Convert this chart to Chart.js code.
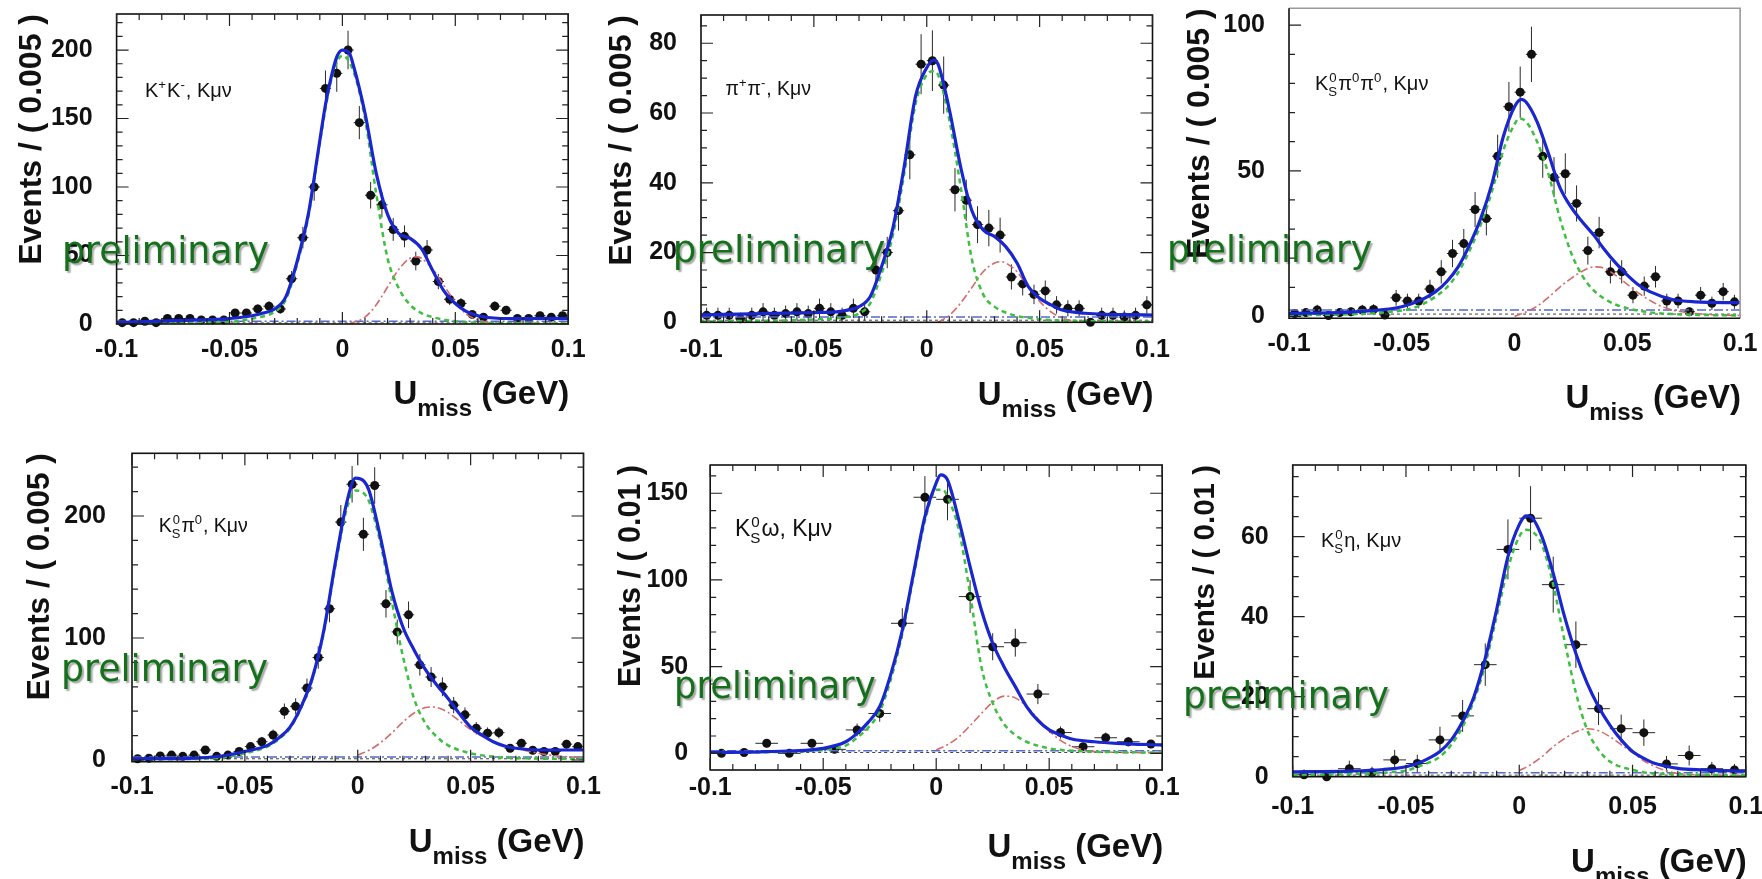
<!DOCTYPE html>
<html><head><meta charset="utf-8">
<script src="https://cdn.jsdelivr.net/npm/chart.js@4/dist/chart.umd.min.js"></script>
<style>
html,body{margin:0;padding:0;background:#fff;}
#wrap{position:relative;width:1762px;height:879px;overflow:hidden;background:#fff;}
canvas{position:absolute;left:0;top:0;}
</style></head><body><div id="wrap">
<canvas id="c1" width="1762" height="879"></canvas>
<canvas id="c2" width="1762" height="879"></canvas>
<canvas id="c3" width="1762" height="879"></canvas>
<canvas id="c4" width="1762" height="879"></canvas>
<canvas id="c5" width="1762" height="879"></canvas>
<canvas id="c6" width="1762" height="879"></canvas>
</div>
<script>
// ---------------- DATA ----------------
const bins005 = [-0.0975,-0.0925,-0.0875,-0.0825,-0.0775,-0.0725,-0.0675,-0.0625,-0.0575,-0.0525,-0.0475,-0.0425,-0.0375,-0.0325,-0.0275,-0.0225,-0.0175,-0.0125,-0.0075,-0.0025,0.0025,0.0075,0.0125,0.0175,0.0225,0.0275,0.0325,0.0375,0.0425,0.0475,0.0525,0.0575,0.0625,0.0675,0.0725,0.0775,0.0825,0.0875,0.0925,0.0975];
const bins01 = [-0.095,-0.085,-0.075,-0.065,-0.055,-0.045,-0.035,-0.025,-0.015,-0.005,0.005,0.015,0.025,0.035,0.045,0.055,0.065,0.075,0.085,0.095];
const xTicks = [-0.1,-0.05,0,0.05,0.1];
const xTickLabels = ['-0.1','-0.05','0','0.05','0.1'];

// Panel 1: K+K-, Kmunu
const counts1 = [1,1,2,1,4,4,4,3,3,3,8,8,11,13,11,33,63,100,172,183,200,147,94,87,69,64,46,54,31,18,15,7,5,13,10,4,4,6,5,6];
const errors1 = [1,1,1.4,1,2,2,2,1.7,1.7,1.7,2.8,2.8,3.3,3.6,3.3,5.7,7.9,10,13.1,13.5,14.1,12.1,9.7,9.3,8.3,8,6.8,7.3,5.6,4.2,3.9,2.6,2.2,3.6,3.2,2,2,2.4,2.2,2.4];
const fitX1 = [-0.1,-0.075,-0.05,-0.04,-0.035,-0.03,-0.025,-0.02,-0.015,-0.01,-0.0075,-0.005,-0.0025,0,0.003,0.005,0.01,0.015,0.02,0.025,0.03,0.035,0.04,0.045,0.05,0.055,0.06,0.07,0.08,0.1];
const fitY1 = [1,2.5,4,6,8,11,20,46,81,134,160,180,195,200,198,188,154,110,80,66,62.5,55,39,24,15,9,6,4,4,4];
const sigX1 = [-0.1,-0.05,-0.04,-0.03,-0.025,-0.02,-0.015,-0.01,-0.005,0,0.005,0.01,0.015,0.02,0.025,0.03,0.035,0.04,0.05,0.06,0.1];
const sigY1 = [0.3,1.5,4,9,18,44,79,132,178,196,184,150,95,48,26,14,8,5,2,1,0.3];
const peakX1 = [0.003,0.01,0.015,0.02,0.025,0.03,0.033,0.035,0.04,0.045,0.05,0.055,0.06,0.065,0.07,0.1];
const peakY1 = [0,5,14,27,40,48,49,48,40,28,16,7,3,1,0,0];
const flat1 = [2,0.8];
const yTicks1 = [0,50,100,150,200];
const label1 = [['K',''],['+','sup'],['K',''],['-','sup'],[', K\u03bc\u03bd','']];

// Panel 2: pi+pi-, Kmunu
const counts2 = [2,2,2,1,2,3,2,2.5,3,2.5,4,3,2,4,3,15,20,32,48,74,75,68,38,35,28,27,25,13,11,8,9,5,4,4,0,2,2,1.5,2,5];
const errors2 = [2.2,2.2,2.2,1.8,2.2,2.5,2.2,2.3,2.5,2.3,2.8,2.5,2.2,2.8,2.5,4,4.5,5.7,7,8.6,8.7,8.2,6.2,5.9,5.3,5.2,5,3.6,3.3,2.8,3,2.5,2.3,2.3,1.2,2.2,2.2,1.9,2.2,2.5];
const fitX2 = [-0.1,-0.05,-0.04,-0.035,-0.03,-0.025,-0.02,-0.015,-0.01,-0.005,0,0.003,0.005,0.01,0.015,0.02,0.025,0.03,0.035,0.04,0.045,0.05,0.055,0.06,0.07,0.1];
const fitY2 = [2.1,2.8,3,3.5,4.5,7.4,16,27,44.6,64.7,73,75.2,74,61,44.6,32,26.5,24.6,21.7,17,10.2,6.9,5,3.5,2.6,2.1];
const sigX2 = [-0.1,-0.05,-0.04,-0.035,-0.03,-0.025,-0.02,-0.015,-0.01,-0.005,0,0.003,0.005,0.01,0.015,0.02,0.025,0.03,0.035,0.04,0.05,0.06,0.1];
const sigY2 = [0.2,0.8,1.2,1.6,2.5,5.5,14,25,42.5,62.5,71,72,71,58,39,18,8,4.5,2.8,1.8,0.9,0.5,0.2];
const peakX2 = [0.005,0.01,0.015,0.02,0.025,0.03,0.033,0.035,0.04,0.045,0.05,0.055,0.06,0.065,0.07,0.1];
const peakY2 = [0,2,5.5,10,14.5,17,17.4,17,14.5,10,6,3,1.2,0.4,0,0];
const flat2 = [1.5,0.6];
const yTicks2 = [0,20,40,60,80];
const label2 = [['\u03c0',''],['+','sup'],['\u03c0',''],['-','sup'],[', K\u03bc\u03bd','']];

// Panel 3: Ks pi0 pi0, Kmunu
const counts3 = [1,1.3,2.2,0.3,1.3,1.6,2.2,2.4,0.5,6.4,5.3,5.3,9.4,15.3,21.6,25,36.7,33.6,55,72,77,90,55,47.8,49,38.8,22.6,28.8,15.3,15.3,7.3,10.4,13.6,5.3,5.3,1.6,7.3,4.5,8.5,5];
const errors3 = [1.4,1.4,1.8,1,1.4,1.5,1.8,1.8,1,2.7,2.5,2.5,3.2,4,4.7,5,6,5.8,7.4,8.5,8.8,9.5,7.4,6.9,7,6.2,4.8,5.4,4,4,2.8,3.3,3.7,2.5,2.5,1.5,2.8,2.3,3,2.4];
const fitX3 = [-0.1,-0.075,-0.06,-0.05,-0.04,-0.035,-0.03,-0.025,-0.02,-0.015,-0.01,-0.005,0,0.003,0.005,0.01,0.015,0.02,0.025,0.03,0.035,0.04,0.045,0.05,0.055,0.06,0.07,0.08,0.1];
const fitY3 = [1,1.4,2.2,3.3,6.2,8.5,12,17,24.5,33.6,45.6,61.7,72,74.5,73.7,66.8,56,44.5,37.6,32.5,28,22.8,18.2,14.2,10.8,8.5,5.8,5,4.7];
const sigX3 = [-0.1,-0.05,-0.04,-0.03,-0.025,-0.02,-0.015,-0.01,-0.005,0,0.002,0.005,0.01,0.015,0.02,0.025,0.03,0.035,0.04,0.045,0.05,0.06,0.07,0.1];
const sigY3 = [0.3,2,4.5,10,15,22.5,31.5,43,57,66,68,67,60,49,34,22,14,9,6,4,2.8,1.4,0.8,0.3];
const peakX3 = [0,0.005,0.01,0.015,0.02,0.025,0.03,0.035,0.04,0.045,0.05,0.055,0.06,0.065,0.07,0.075,0.08,0.09,0.1];
const peakY3 = [0,1.5,3.5,6.5,10,13,15.5,17,16.5,14,11,8,5.5,3.5,2.2,1.5,1,0.5,0.3];
const flat3 = [2.2,0.8];
const yTicks3 = [0,50,100];
const label3 = [['K',''],['0|S','ss'],['\u03c0',''],['0','sup'],['\u03c0',''],['0','sup'],[', K\u03bc\u03bd','']];

// Panel 4: Ks pi0, Kmunu
const counts4 = [1,1.4,3.3,4,3,4,8.2,3,4,7,11,15,20.5,40,44,59,84,124,195,226,185,225,128,105,119,78,68,60,45,37,26,22,22.4,9.6,13.7,8,7,7,13,11];
const errors4 = [1,1.2,1.8,2,1.7,2,2.9,1.7,2,2.6,3.3,3.9,4.5,6.3,6.6,7.7,9.2,11.1,14,15,13.6,15,11.3,10.2,10.9,8.8,8.2,7.7,6.7,6.1,5.1,4.7,4.7,3.1,3.7,2.8,2.6,2.6,3.6,3.3];
const fitX4 = [-0.1,-0.075,-0.06,-0.05,-0.04,-0.035,-0.03,-0.025,-0.02,-0.015,-0.01,-0.005,-0.001,0.003,0.005,0.01,0.015,0.02,0.025,0.03,0.035,0.04,0.045,0.05,0.055,0.06,0.065,0.07,0.08,0.1];
const fitY4 = [1,1.4,3.3,7,12,18,27,44,68,106.6,161,210,231,228,221,183,139,109,90,74,61.5,50.5,38,27,20.5,15,11.5,9.6,8.2,8.2];
const sigX4 = [-0.1,-0.075,-0.06,-0.05,-0.04,-0.035,-0.03,-0.025,-0.02,-0.015,-0.01,-0.005,-0.001,0.003,0.005,0.01,0.015,0.02,0.025,0.03,0.035,0.04,0.05,0.06,0.07,0.1];
const sigY4 = [0.5,0.8,2,5.5,11,17,26,43,67,105,158,205,221,218,212,178,131,85,50,30,19,12,5.5,2.7,1.6,0.8];
const peakX4 = [0,0.005,0.01,0.015,0.02,0.025,0.03,0.033,0.035,0.04,0.045,0.05,0.055,0.06,0.065,0.07,0.075,0.08,0.085,0.09,0.1];
const peakY4 = [4,8,14,22,31,38.5,43,43.5,43,39,32,25,19.5,15,12,9.5,7.5,5.5,4,3,2];
const flat4 = [2.5,1];
const yTicks4 = [0,100,200];
const label4 = [['K',''],['0|S','ss'],['\u03c0',''],['0','sup'],[', K\u03bc\u03bd','']];

// Panel 5: Ks omega, Kmunu
const counts5 = [0,0.5,5.8,0,5.8,2.3,13.5,23,75,147.7,146.5,90.4,61.5,63.8,34.2,12,3.8,9,6.7,5.4];
const errors5 = [1.5,1.2,2.4,1.3,2.4,1.5,3.7,4.8,8.7,12.2,12.1,9.5,7.8,8,5.8,3.5,2,3,2.6,2.3];
const fitX5 = [-0.1,-0.075,-0.05,-0.04,-0.035,-0.03,-0.025,-0.02,-0.015,-0.01,-0.005,0,0.002,0.005,0.01,0.015,0.02,0.025,0.03,0.035,0.04,0.045,0.05,0.055,0.06,0.07,0.08,0.1];
const fitY5 = [0.5,1,2.9,6.7,11.5,18,27,46,71,104,136.5,156,160.6,157.7,134.6,107.7,82.7,63.5,50,38.5,27,19,13.5,10.6,8.3,6.7,5.8,4.8];
const sigX5 = [-0.1,-0.075,-0.05,-0.04,-0.035,-0.03,-0.025,-0.02,-0.015,-0.01,-0.005,0,0.003,0.005,0.01,0.015,0.02,0.025,0.03,0.035,0.04,0.05,0.06,0.1];
const sigY5 = [0.3,0.7,2,4.5,9,15,24,43,69,102,134,152,152,148,129,92,50,29,17,10.6,6.7,2.9,1.5,0.4];
const peakX5 = [0,0.005,0.01,0.015,0.02,0.025,0.03,0.035,0.04,0.045,0.05,0.055,0.06,0.065,0.07,0.1];
const peakY5 = [2,5,9.5,16,23,29.5,33,32,27,20,13,7.5,4,2,1,0.3];
const flat5 = [1.5,0.5];
const yTicks5 = [0,50,100,150];
const label5 = [['K',''],['0|S','ss'],['\u03c9',''],[', K\u03bc\u03bd','']];

// Panel 6: Ks eta, Kmunu
const counts6 = [0.5,0,2,1,4.2,3.3,9.2,15.2,28,56.8,64.6,48,33,17,12,11,3.2,5.3,2,1.7];
const errors6 = [1.3,1.2,2,1.5,2.5,2.2,3.3,4,5.3,7.5,8,7,5.8,4.1,3.5,3.3,2,2.5,1.7,1.5];
const fitX6 = [-0.1,-0.075,-0.06,-0.05,-0.045,-0.04,-0.035,-0.03,-0.025,-0.02,-0.015,-0.01,-0.005,0,0.003,0.005,0.01,0.015,0.02,0.025,0.03,0.035,0.04,0.045,0.05,0.055,0.06,0.07,0.08,0.1];
const fitY6 = [1.2,1.4,1.8,2.5,3.3,4.6,6.3,9.2,13.8,20,29.6,41.7,55,63,65.2,65,60,50.8,40,30.8,23.3,17.5,12.9,9.2,6.3,4.6,3.3,2.1,1.7,1.4];
const sigX6 = [-0.1,-0.05,-0.045,-0.04,-0.035,-0.03,-0.025,-0.02,-0.015,-0.01,-0.005,0,0.003,0.005,0.01,0.015,0.02,0.025,0.03,0.035,0.04,0.05,0.06,0.1];
const sigY6 = [0.4,1.5,2.5,3.5,5,8,12.5,19,28,40,52,60,61.7,61.5,58,48,34,21,11.7,6.7,3.8,1.7,0.8,0.4];
const peakX6 = [0,0.005,0.01,0.015,0.02,0.025,0.03,0.035,0.04,0.045,0.05,0.055,0.06,0.065,0.07,0.1];
const peakY6 = [1.5,3,5,7.5,9.5,11.2,12,11.5,10,8,6,4,2.5,1.5,0.8,0.2];
const flat6 = [1,0.4];
const yTicks6 = [0,20,40,60];
const label6 = [['K',''],['0|S','ss'],['\u03b7',''],[', K\u03bc\u03bd','']];

// ---------------- LAYOUT (positions / styles) ----------------
const geo = {
  c1:{l:116.6,r:568.2,t:14,b:324,ymin:0,ymax:226.3,minorY:10,tSize:32,tXc:32,xPad:11,yPad:24,xtB:404,labL:145,labY:90,labSize:20,pre:[62,263,207]},
  c2:{l:701,r:1152.5,t:15,b:322.3,ymin:0,ymax:88.1,minorY:5,tSize:32,tXc:622,xPad:12.5,yPad:24,xtB:405,labL:725.5,labY:88,labSize:19.5,pre:[672.8,262,212.6]},
  c3:{l:1289,r:1740.1,t:8.3,b:318.3,ymin:-0.65,ymax:105.8,minorY:10,tSize:32,tXc:1200,xPad:11,yPad:24,xtB:408,labL:1315,labY:83,labSize:20,pre:[1167,262,205],leftOnly:true},
  c4:{l:132,r:583.5,t:453.3,b:761.7,ymin:-1.4,ymax:251.4,minorY:20,tSize:31.5,tXc:40,xPad:10.5,yPad:26,xtB:851.7,labL:158.8,labY:525,labSize:19.5,pre:[61,681,207]},
  c5:{l:710.2,r:1162.2,t:465,b:770,ymin:-9.6,ymax:166.3,minorY:10,tSize:30.5,tXc:631.4,xPad:3,yPad:22,xtB:856.7,labL:735,labY:528,labSize:23,pre:[674,698,201.6]},
  c6:{l:1292.7,r:1745.8,t:465,b:776.7,ymin:0,ymax:77.9,minorY:5,tSize:29.5,tXc:1205.9,xPad:15.5,yPad:24,xtB:872,labL:1321,labY:540,labSize:20,pre:[1183,708,206]}
};

const panels = [
  {id:'c1',bins:bins005,counts:counts1,errors:errors1,half:0.0025,fx:fitX1,fy:fitY1,sx:sigX1,sy:sigY1,px:peakX1,py:peakY1,flat:flat1,yTicks:yTicks1,yTitle:'Events / ( 0.005 )',label:label1},
  {id:'c2',bins:bins005,counts:counts2,errors:errors2,half:0.0025,fx:fitX2,fy:fitY2,sx:sigX2,sy:sigY2,px:peakX2,py:peakY2,flat:flat2,yTicks:yTicks2,yTitle:'Events / ( 0.005 )',label:label2},
  {id:'c3',bins:bins005,counts:counts3,errors:errors3,half:0.0025,fx:fitX3,fy:fitY3,sx:sigX3,sy:sigY3,px:peakX3,py:peakY3,flat:flat3,yTicks:yTicks3,yTitle:'Events / ( 0.005 )',label:label3},
  {id:'c4',bins:bins005,counts:counts4,errors:errors4,half:0.0025,fx:fitX4,fy:fitY4,sx:sigX4,sy:sigY4,px:peakX4,py:peakY4,flat:flat4,yTicks:yTicks4,yTitle:'Events / ( 0.005 )',label:label4},
  {id:'c5',bins:bins01,counts:counts5,errors:errors5,half:0.005,fx:fitX5,fy:fitY5,sx:sigX5,sy:sigY5,px:peakX5,py:peakY5,flat:flat5,yTicks:yTicks5,yTitle:'Events / ( 0.01 )',label:label5},
  {id:'c6',bins:bins01,counts:counts6,errors:errors6,half:0.005,fx:fitX6,fy:fitY6,sx:sigX6,sy:sigY6,px:peakX6,py:peakY6,flat:flat6,yTicks:yTicks6,yTitle:'Events / ( 0.01 )',label:label6}
];

const FONT = '"Liberation Sans", Arial, Helvetica, sans-serif';
Chart.defaults.font.family = FONT;
const BLUE = '#1a26cf', GREEN = '#3fbf3f', RED = '#d46b6b', BKG = '#5668c8';
const XH = 40;

function xy(xs, ys){ return xs.map((x,i)=>({x:x, y:ys[i]})); }

const decor = {
  id:'decor',
  beforeDatasetsDraw(chart){
    const {ctx, chartArea:a, scales:{x, y}} = chart;
    ctx.save();
    ctx.beginPath(); ctx.rect(a.left, a.top, a.right-a.left, a.bottom-a.top); ctx.clip();
    ctx.strokeStyle = '#2a2a2a'; ctx.lineWidth = 1;
    chart.data.datasets.forEach(ds => {
      if (!ds.errors) return;
      ctx.beginPath();
      ds.data.forEach((p,i) => {
        const px = x.getPixelForValue(p.x), py = y.getPixelForValue(p.y), e = ds.errors[i];
        ctx.moveTo(px, y.getPixelForValue(p.y - e)); ctx.lineTo(px, y.getPixelForValue(p.y + e));
        ctx.moveTo(x.getPixelForValue(p.x - ds.half), py); ctx.lineTo(x.getPixelForValue(p.x + ds.half), py);
      });
      ctx.stroke();
    });
    ctx.restore();
  },
  afterDatasetsDraw(chart, args, o){
    const {ctx, chartArea:a, scales:{x, y}} = chart;
    const g = o.geo;
    ctx.save();
    ctx.lineWidth = 1.6;
    if (g.leftOnly){
      ctx.strokeStyle = '#999';
      ctx.beginPath(); ctx.moveTo(a.left, a.top); ctx.lineTo(a.right, a.top); ctx.lineTo(a.right, a.bottom); ctx.stroke();
      ctx.strokeStyle = '#111';
      ctx.beginPath(); ctx.moveTo(a.left, a.top); ctx.lineTo(a.left, a.bottom); ctx.lineTo(a.right, a.bottom); ctx.stroke();
    } else {
      ctx.strokeStyle = '#111';
      ctx.strokeRect(a.left, a.top, a.right-a.left, a.bottom-a.top);
    }
    ctx.lineWidth = 1.2; ctx.strokeStyle = '#222';
    ctx.beginPath();
    if (!g.leftOnly){
      for (let i=-10;i<=10;i++){
        const px = x.getPixelForValue(i/100), len = (i%5===0)?12:6;
        ctx.moveTo(px, a.bottom); ctx.lineTo(px, a.bottom-len);
        ctx.moveTo(px, a.top); ctx.lineTo(px, a.top+len);
      }
    }
    const major = o.yTicks[1]-o.yTicks[0];
    const n0 = Math.ceil(g.ymin/g.minorY), n1 = Math.floor(g.ymax/g.minorY);
    for (let n=n0;n<=n1;n++){
      const v = n*g.minorY, py = y.getPixelForValue(v);
      const r = v/major, len = Math.abs(r-Math.round(r))<1e-6 ? 12 : 6;
      ctx.moveTo(a.left, py); ctx.lineTo(a.left+len, py);
      if (!g.leftOnly){ ctx.moveTo(a.right, py); ctx.lineTo(a.right-len, py); }
    }
    ctx.stroke();
    ctx.restore();
  },
  afterDraw(chart, args, o){
    const {ctx, chartArea:a} = chart;
    const g = o.geo;
    ctx.save();
    ctx.fillStyle = '#111'; ctx.textAlign = 'left'; ctx.textBaseline = 'alphabetic';
    const big = 'bold 33px ' + FONT, small = 'bold 24px ' + FONT;
    ctx.font = big; const wU = ctx.measureText('U').width, wG = ctx.measureText(' (GeV)').width;
    ctx.font = small; const wm = ctx.measureText('miss').width;
    let xx = a.right + 1 - (wU + wm + wG);
    ctx.font = big; ctx.fillText('U', xx, g.xtB); xx += wU;
    ctx.font = small; ctx.fillText('miss', xx, g.xtB + 12); xx += wm;
    ctx.font = big; ctx.fillText(' (GeV)', xx, g.xtB);
    const s = g.labSize, base = g.labY + 0.36*s;
    const fN = s + 'px ' + FONT, fS = (s*0.66).toFixed(1) + 'px ' + FONT;
    let lx = g.labL;
    o.label.forEach(([t, m]) => {
      if (m === '') { ctx.font = fN; ctx.fillText(t, lx, base); lx += ctx.measureText(t).width; }
      else if (m === 'sup') { ctx.font = fS; ctx.fillText(t, lx, base - 0.42*s); lx += ctx.measureText(t).width + 1; }
      else { const [sp, sb] = t.split('|'); ctx.font = fS;
        ctx.fillText(sp, lx+1, base - 0.42*s); ctx.fillText(sb, lx, base + 0.3*s);
        lx += Math.max(ctx.measureText(sp).width+1, ctx.measureText(sb).width) + 1; }
    });
    const [pl, pb, pw] = g.pre;
    ctx.font = '38px "DejaVu Sans Condensed", "DejaVu Sans", sans-serif';
    const w = ctx.measureText('preliminary').width;
    ctx.translate(pl, pb); ctx.scale(pw / w, 1);
    ctx.shadowColor = 'rgba(0,0,0,0.35)'; ctx.shadowOffsetX = 2; ctx.shadowOffsetY = 2; ctx.shadowBlur = 1.5;
    ctx.fillStyle = '#14701a';
    ctx.fillText('preliminary', 0, 0);
    ctx.restore();
  }
};

panels.forEach(p => {
  const g = geo[p.id];
  const padL = g.tXc - 0.6*g.tSize;
  new Chart(document.getElementById(p.id), {
    type:'line',
    data:{datasets:[
      {label:'fit', data:xy(p.fx,p.fy), borderColor:BLUE, borderWidth:3.2, pointRadius:0, fill:false, cubicInterpolationMode:'monotone', order:1},
      {label:'signal', data:xy(p.sx,p.sy), borderColor:GREEN, borderWidth:2.5, borderDash:[5,4], pointRadius:0, fill:false, cubicInterpolationMode:'monotone', order:2},
      {label:'peaking', data:xy(p.px,p.py), borderColor:RED, borderWidth:1.6, borderDash:[8,3,2,3], pointRadius:0, fill:false, cubicInterpolationMode:'monotone', order:3},
      {label:'bkg', data:xy([-0.1,0.1],[p.flat[0],p.flat[0]]), borderColor:BKG, borderWidth:1.5, borderDash:[9,3,2,3], pointRadius:0, fill:false, order:4},
      {label:'bkg2', data:xy([-0.1,0.1],[p.flat[1],p.flat[1]]), borderColor:'#444', borderWidth:1, borderDash:[3,3], pointRadius:0, fill:false, order:4},
      {label:'data', data:xy(p.bins,p.counts), showLine:false, pointRadius:4.5, pointBackgroundColor:'#111', pointBorderWidth:0, errors:p.errors, half:p.half, clip:false, order:5}
    ]},
    options:{
      responsive:false, animation:false, events:[],
      layout:{padding:{left:padL, top:g.t, right:1762-g.r, bottom:879-g.b-XH}},
      plugins:{legend:{display:false}, tooltip:{enabled:false}, decor:{geo:g, yTicks:p.yTicks, label:p.label}},
      scales:{
        x:{type:'linear', min:-0.1, max:0.1, grid:{display:false, drawTicks:false}, border:{display:false},
           afterBuildTicks:s=>{ s.ticks = xTicks.map(v=>({value:v})); },
           afterFit:s=>{ s.height = XH; s.paddingLeft = 0; s.paddingRight = 0; },
           ticks:{autoSkip:false, maxRotation:0, minRotation:0, padding:g.xPad, color:'#111', font:{size:25, weight:'bold'}, callback:(v,i)=>xTickLabels[i]}},
        y:{type:'linear', min:g.ymin, max:g.ymax, grid:{display:false, drawTicks:false}, border:{display:false},
           afterBuildTicks:s=>{ s.ticks = p.yTicks.map(v=>({value:v})); },
           afterFit:s=>{ s.width = g.l - padL; s.paddingTop = 0; s.paddingBottom = 0; },
           ticks:{padding:g.yPad, color:'#111', font:{size:25, weight:'bold'}, callback:v=>String(v)},
           title:{display:true, text:p.yTitle, align:'end', padding:0, color:'#111', font:{size:g.tSize, weight:'bold'}}}
      }
    },
    plugins:[decor]
  });
});
</script>
</body></html>
